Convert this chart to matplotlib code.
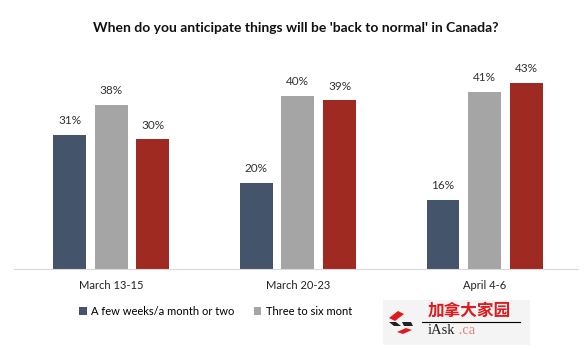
import matplotlib.pyplot as plt
import numpy as np
from matplotlib.patches import Rectangle, Polygon

periods = ['March 13-15', 'March 20-23', 'April 4-6']
series = ['A few weeks/a month or two', 'Three to six mont', None]
few_weeks = [31, 20, 16]
three_six = [38, 40, 41]
longer = [30, 39, 43]
colors = ['#44546A', '#A5A5A5', '#9E2A22']

plt.rcParams['font.family'] = ['Lato', 'DejaVu Sans']

fig = plt.figure(figsize=(5.85, 3.49), dpi=100)
ax = fig.add_axes([0.024, 0.229, 0.964, 0.599])

x = np.arange(len(periods))
step = 0.223
width = 0.176
for i, (vals, c, name) in enumerate(zip([few_weeks, three_six, longer], colors, series)):
    bars = ax.bar(x + (i - 1) * step, vals, width, color=c,
                  label=name if name else '_nolegend_')
    for b, v in zip(bars, vals):
        ax.text(b.get_x() + b.get_width() / 2, v + 2, f'{v}%', ha='center',
                va='bottom', fontsize=8.5, color='#333333')

ax.set_xlim(-0.52, 2.5)
ax.set_ylim(0, 48.3)
ax.set_yticks([])
ax.set_xticks(x)
ax.set_xticklabels(periods, fontsize=8, color='#222222')
ax.tick_params(axis='x', length=0, pad=8)
for s in ['top', 'right', 'left']:
    ax.spines[s].set_visible(False)
ax.spines['bottom'].set_color('#D9D9D9')

fig.text(0.505, 0.92, "When do you anticipate things will be 'back to normal' in Canada?",
         ha='center', va='center', fontsize=10, fontweight='bold', color='#111111')

fig.legend(loc='center left', bbox_to_anchor=(0.118, 0.108), ncol=2, frameon=False,
           fontsize=8, handlelength=0.7, handleheight=0.7, handletextpad=0.4,
           columnspacing=1.7)

# watermark overlay
fig.patches.append(Rectangle((383 / 585, 4 / 349), 147 / 585, 45 / 349, transform=fig.transFigure,
                             facecolor='#F4F4F4', edgecolor='none', zorder=6))
for pts, c in [([(389, 318), (398, 311), (404, 314), (395, 321)], '#E0191E'),
               ([(389, 322), (396, 322), (401, 326), (394, 326)], '#222222'),
               ([(402, 322), (411, 322), (413, 326), (404, 326)], '#222222'),
               ([(397, 332), (406, 328), (412, 330), (403, 334)], '#E0191E')]:
    fig.patches.append(Polygon([(px / 585, 1 - py / 349) for px, py in pts], closed=True,
                               transform=fig.transFigure, facecolor=c, edgecolor='none', zorder=7))
fig.text(469 / 585, 1 - 311 / 349, '加拿大家园', ha='center', va='center', fontsize=12,
         color='#E0191E', fontweight='bold', family=['Noto Sans CJK SC'], zorder=8)
fig.lines.append(plt.Line2D([422 / 585, 520 / 585], [1 - 322 / 349] * 2, transform=fig.transFigure,
                            color='black', linewidth=0.8, zorder=8))
fig.text(455 / 585, 1 - 331 / 349, 'iAsk', ha='right', va='center', fontsize=10.5,
         family=['Liberation Serif'], color='#222222', zorder=8)
fig.text(455 / 585, 1 - 331 / 349, ' .ca', ha='left', va='center', fontsize=10.5,
         family=['Liberation Serif'], color='#E58080', zorder=8)

fig.savefig('out.png', dpi=100)
